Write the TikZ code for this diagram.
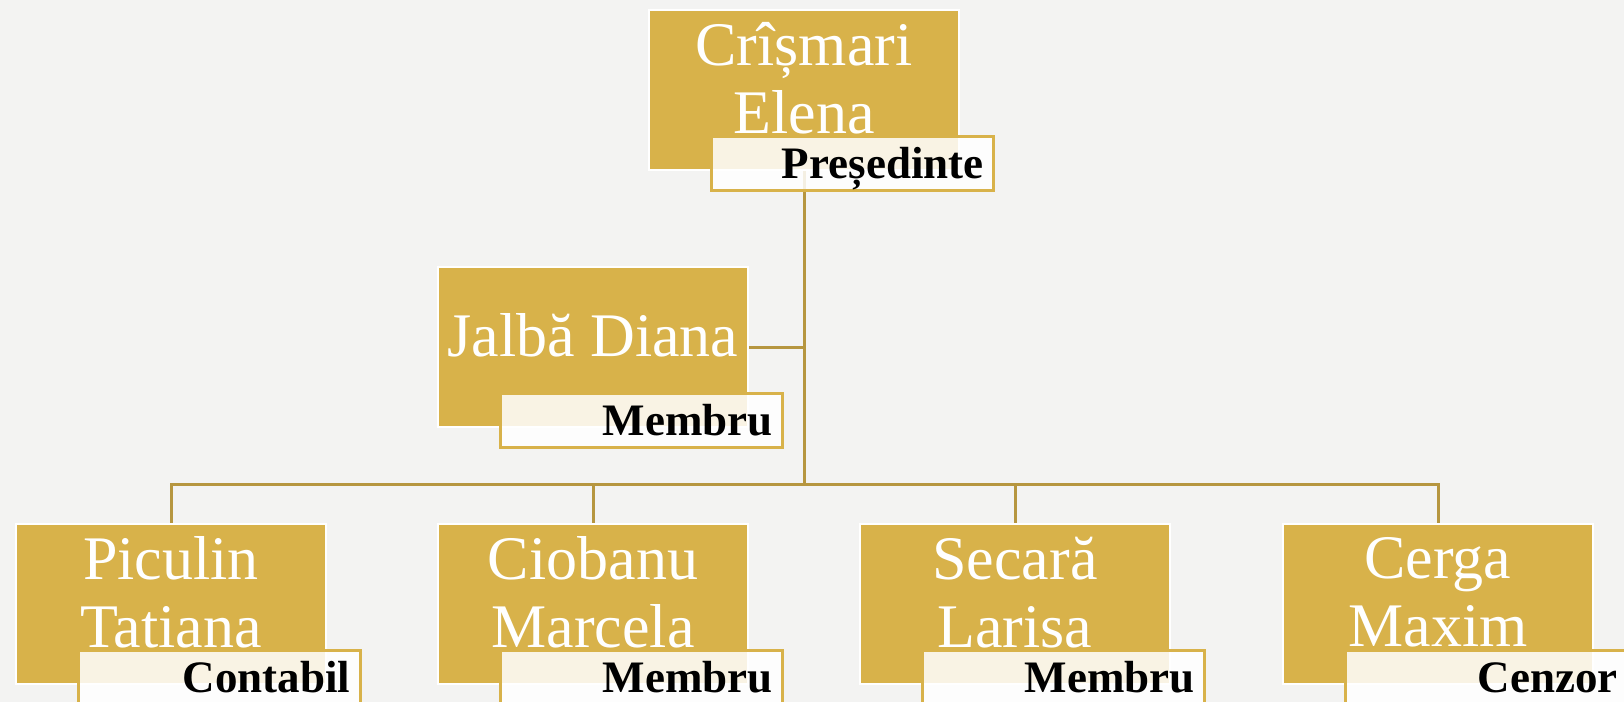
\documentclass[tikz,border=0pt]{standalone}
\usepackage{fontspec}
\setmainfont{Liberation Serif}
\definecolor{gold}{RGB}{216,178,74}
\definecolor{darkgold}{RGB}{182,150,64}
\definecolor{paper}{RGB}{243,243,242}
\tikzset{person/.style={draw=white,line width=1pt,fill=gold,minimum width=155pt,minimum height=80pt,
                        align=center,text=white,font=\fontsize{31}{34}\selectfont,text depth=12pt},
         role/.style={draw=gold,line width=1.5pt,fill=white,fill opacity=0.85,text opacity=1,
                      minimum width=141pt,minimum height=27pt,inner xsep=5pt,text width=131pt,align=right,
                      font=\fontsize{22.5}{24}\selectfont\bfseries,text height=15pt,text depth=0pt,anchor=north east},
         conn/.style={draw=darkgold,line width=1.5pt},
         }

\begin{document}
\begin{tikzpicture}[x=0.5pt,y=-0.5pt]
\fill[paper] (0,0) rectangle (1624,702);
\useasboundingbox (0,0) rectangle (1624,702);
\coordinate (bus) at (804,484);
% persons
\node[person] (pres) at (804,90) {Crîșmari\\Elena};
\node[person] (jalba) at (593,347) {Jalbă Diana};
\node[person] (piculin) at (171,604) {Piculin\\Tatiana};
\node[person] (ciobanu) at (593,604) {Ciobanu\\Marcela};
\node[person] (secara) at (1015,604) {Secară\\Larisa};
\node[person] (cerga) at (1438,604) {Cerga\\Maxim};
% connectors
\draw[conn] (pres.south) -- (bus);
\draw[conn] (jalba.east) -- (jalba.east -| bus);
\foreach \p in {piculin,ciobanu,secara,cerga}
  \draw[conn] (bus) -| (\p.north);
% roles
\foreach \p/\r in {pres/Președinte,jalba/Membru,piculin/Contabil,ciobanu/Membru,secara/Membru,cerga/Cenzor}
  \node[role] (\p-role) at ([xshift=17.5pt,yshift=18pt]\p.south east) {\r};
\end{tikzpicture}
\end{document}
